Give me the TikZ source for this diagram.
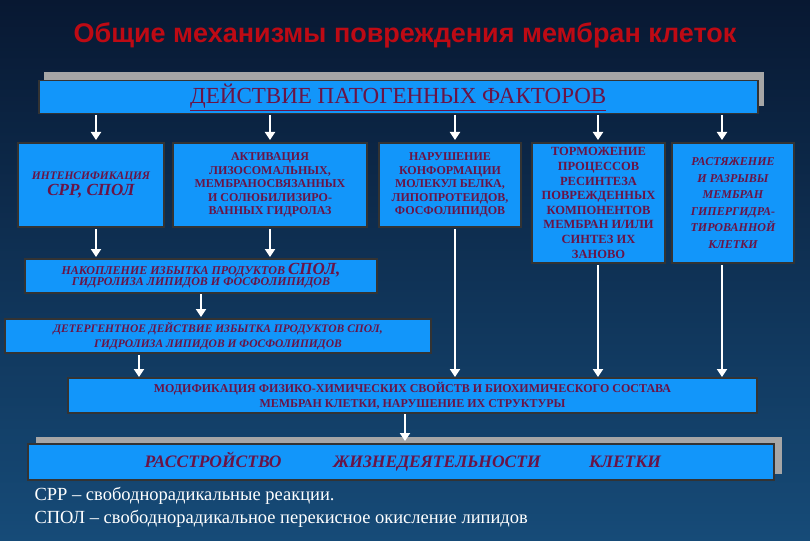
\documentclass[tikz,border=0pt]{standalone}
\usepackage{fontspec}
\setmainfont{Liberation Serif}
\newfontfamily\arialf{Liberation Sans}
\usetikzlibrary{arrows.meta}
\begin{document}
\begin{tikzpicture}[x=1pt,y=-1pt,
  bx/.style={draw=black!80,line width=1.5pt,fill=boxc},
  tx/.style={text=txtc,font=\bfseries\fontsize{12}{13.5}\selectfont,align=center,inner sep=0pt},
  bt/.style={text=txtc,font=\bfseries\itshape\fontsize{17.5}{19}\selectfont,anchor=base},
  ar/.style={draw=white,line width=2.6pt,-{Triangle[width=10pt,length=8pt]}}]
\definecolor{boxc}{RGB}{18,150,250}
\definecolor{txtc}{RGB}{105,20,70}
\definecolor{bgt}{RGB}{8,24,50}
\definecolor{bgb}{RGB}{22,75,120}
\useasboundingbox (0,0) rectangle (810,540);
\shade[top color=bgt,bottom color=bgb] (0,0) rectangle (810,540);
\node[text={rgb,255:red,190;green,10;blue,20},font=\arialf\bfseries\fontsize{27}{30}\selectfont] (title) at (405,35) {Общие\ механизмы\ повреждения мембран\ клеток};
% top box
\fill[gray!70] (44,72) rectangle (764,106);
\node[bx,minimum width=719pt,minimum height=33pt,anchor=north west,inner sep=0pt] (top) at (38,80) {};
\node[text=txtc,font=\fontsize{23}{25}\selectfont] (toptx) at (top.center) {\underline{ДЕЙСТВИЕ ПАТОГЕННЫХ ФАКТОРОВ}};
% row boxes
\draw[bx] (18,143) rectangle (164,227) node[midway,tx,font=\bfseries\itshape\fontsize{11.5}{13}\selectfont] (b1) {ИНТЕНСИФИКАЦИЯ\\[2pt]{\fontsize{17}{18}\selectfont СРР, СПОЛ}};
\draw[bx] (173,143) rectangle (367,227) node[midway,tx] (b2) {АКТИВАЦИЯ\\ЛИЗОСОМАЛЬНЫХ,\\МЕМБРАНОСВЯЗАННЫХ\\И СОЛЮБИЛИЗИРО-\\ВАННЫХ ГИДРОЛАЗ};
\draw[bx] (379,143) rectangle (521,227) node[midway,tx] (b3) {НАРУШЕНИЕ\\КОНФОРМАЦИИ\\МОЛЕКУЛ БЕЛКА,\\ЛИПОПРОТЕИДОВ,\\ФОСФОЛИПИДОВ};
\draw[bx] (532,143) rectangle (665,263) node[midway,tx,font=\bfseries\fontsize{12.5}{14.6}\selectfont] (b4) {ТОРМОЖЕНИЕ\\ПРОЦЕССОВ\\РЕСИНТЕЗА\\ПОВРЕЖДЕННЫХ\\КОМПОНЕНТОВ\\МЕМБРАН И/ИЛИ\\СИНТЕЗ ИХ\\ЗАНОВО};
\draw[bx] (672,143) rectangle (794,263) node[midway,tx,font=\bfseries\itshape\fontsize{12}{16.5}\selectfont] (b5) {РАСТЯЖЕНИЕ\\И РАЗРЫВЫ\\МЕМБРАН\\ГИПЕРГИДРА-\\ТИРОВАННОЙ\\КЛЕТКИ};
\draw[bx] (25,259) rectangle (377,293) node[midway,tx,font=\bfseries\itshape\fontsize{12}{11}\selectfont] (n1) {НАКОПЛЕНИЕ\ ИЗБЫТКА\ ПРОДУКТОВ {\fontsize{17}{12}\selectfont СПОЛ,}\\ГИДРОЛИЗА\ ЛИПИДОВ\ И\ ФОСФОЛИПИДОВ};
\draw[bx] (5,319) rectangle (431,353) node[midway,tx,font=\bfseries\itshape\fontsize{11.5}{15}\selectfont] (n2) {ДЕТЕРГЕНТНОЕ ДЕЙСТВИЕ ИЗБЫТКА ПРОДУКТОВ\ СПОЛ,\\ГИДРОЛИЗА\ ЛИПИДОВ\ И\ ФОСФОЛИПИДОВ};
\draw[bx] (68,378) rectangle (757,413) node[midway,tx,font=\bfseries\fontsize{12}{15}\selectfont] (n3) {МОДИФИКАЦИЯ ФИЗИКО-ХИМИЧЕСКИХ СВОЙСТВ И\ БИОХИМИЧЕСКОГО СОСТАВА\\МЕМБРАН\ КЛЕТКИ, НАРУШЕНИЕ\ ИХ СТРУКТУРЫ};
% bottom box
\fill[gray!70] (36,437) rectangle (782,474);
\draw[bx] (28,444) rectangle (774,480);
\node[bt] (r1) at (213,467) {РАССТРОЙСТВО};
\node[bt] (r2) at (437,467) {ЖИЗНЕДЕЯТЕЛЬНОСТИ};
\node[bt] (r3) at (625,467) {КЛЕТКИ};
% arrows
\foreach \x in {96,270,455,598,722} \draw[ar] (\x,115) -- (\x,140);
\draw[ar] (96,229) -- (96,257);
\draw[ar] (270,229) -- (270,257);
\draw[ar] (201,294) -- (201,317);
\draw[ar] (139,355) -- (139,377);
\draw[ar] (455,229) -- (455,377);
\draw[ar] (598,265) -- (598,377);
\draw[ar] (722,265) -- (722,377);
\draw[ar] (405,414) -- (405,441);
% notes
\node[text=white,anchor=west,font=\fontsize{18.5}{20}\selectfont] (f1) at (31,496) {СРР – свободнорадикальные реакции.};
\node[text=white,anchor=west,font=\fontsize{18.5}{20}\selectfont] (f2) at (31,519) {СПОЛ – свободнорадикальное перекисное окисление липидов};
\end{tikzpicture}
\end{document}
